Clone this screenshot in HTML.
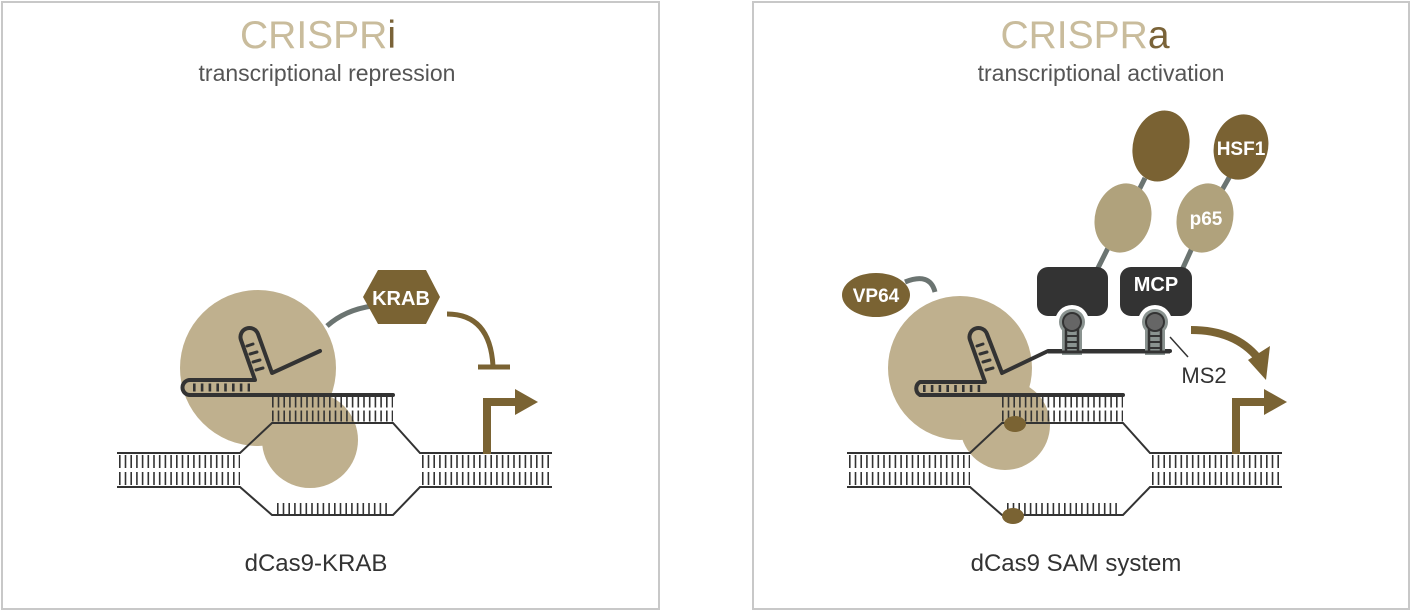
<!DOCTYPE html>
<html><head><meta charset="utf-8"><style>
html,body{margin:0;padding:0;background:#fff;}
svg{display:block;}
text{font-family:"Liberation Sans",sans-serif;}
</style></head><body>
<svg width="1412" height="612" viewBox="0 0 1412 612">
<rect x="2" y="2" width="657" height="607" fill="#fff" stroke="#c8c8c8" stroke-width="2"/>
<rect x="753" y="2" width="656" height="607" fill="#fff" stroke="#c8c8c8" stroke-width="2"/>

<text x="318" y="48" font-size="39" text-anchor="middle" fill="#c9bc9c">CRISPR<tspan fill="#7a6338">i</tspan></text>
<text x="327" y="81" font-size="23" text-anchor="middle" fill="#555">transcriptional repression</text>
<text x="1085" y="48" font-size="39" text-anchor="middle" fill="#c9bc9c">CRISPR<tspan fill="#7a6338">a</tspan></text>
<text x="1101" y="81" font-size="23" text-anchor="middle" fill="#555">transcriptional activation</text>
<text x="316" y="571" font-size="24" text-anchor="middle" fill="#333">dCas9-KRAB</text>
<text x="1076" y="571" font-size="24" text-anchor="middle" fill="#333">dCas9 SAM system</text>

<defs>
<g id="dna">
  <g fill="none" stroke="#333">
    <path d="M117 453H240L272 423H393L420 453H552" stroke-width="2"/>
    <path d="M117 487H240L272 515H393L420 487H552" stroke-width="2"/>
    <g stroke-width="13" stroke-dasharray="1.6 4.1">
      <line x1="119" y1="461.5" x2="240" y2="461.5"/>
      <line x1="119" y1="478.5" x2="240" y2="478.5"/>
      <line x1="422" y1="461.5" x2="552" y2="461.5"/>
      <line x1="422" y1="478.5" x2="552" y2="478.5"/>
    </g>
    <line x1="277" y1="508.5" x2="390" y2="508.5" stroke-width="11" stroke-dasharray="1.6 4.1"/>
  </g>
</g>
<g id="dnaupper" fill="none" stroke="#333">
  <g stroke-width="11" stroke-dasharray="1.6 4.1">
    <line x1="272" y1="402" x2="393" y2="402"/>
    <line x1="272" y1="416" x2="393" y2="416"/>
  </g>
</g>
</defs>

<!-- LEFT -->
<circle cx="258" cy="368" r="78" fill="#bfb08e"/>
<circle cx="310" cy="440" r="48" fill="#bfb08e"/>
<use href="#dna"/>
<use href="#dnaupper"/>
<g fill="none" stroke="#333" stroke-width="4" stroke-linecap="round" stroke-linejoin="round">
  <path d="M393 395H190A7.5 7.5 0 0 1 190 380H255L241 340A9 9 0 0 1 258 334L272 373L320 351"/>
</g>
<g stroke="#333" stroke-width="8" stroke-dasharray="2.6 5.2"><line x1="193" y1="387.5" x2="250" y2="387.5"/></g>
<g stroke="#333" stroke-width="3" stroke-linecap="round">
  <line x1="247" y1="346" x2="253" y2="344"/><line x1="250" y1="354" x2="257" y2="352"/><line x1="253" y1="362" x2="260" y2="360"/><line x1="256" y1="370" x2="263" y2="368"/>
</g>
<path d="M327 326Q345 310 372 306" fill="none" stroke="#6b7471" stroke-width="5"/>
<polygon points="363,297 378,270 426,270 440,297 426,324 378,324" fill="#7a6333"/>
<text x="401" y="305" font-size="20" font-weight="bold" fill="#fff" text-anchor="middle">KRAB</text>
<path d="M447 314Q490 314 493 366" fill="none" stroke="#7a6333" stroke-width="5"/>
<line x1="478" y1="367" x2="510" y2="367" stroke="#7a6333" stroke-width="5"/>
<path d="M487 454V402H518" fill="none" stroke="#7a6333" stroke-width="8"/>
<polygon points="515,389 538,402 515,415" fill="#7a6333"/>

<!-- RIGHT -->
<circle cx="960" cy="368" r="72" fill="#bfb08e"/>
<circle cx="1005" cy="425" r="45" fill="#bfb08e"/>
<g transform="translate(730,0)"><use href="#dna"/><use href="#dnaupper"/></g>
<ellipse cx="1015" cy="424" rx="11" ry="8" fill="#7a6333"/>
<ellipse cx="1013" cy="516" rx="11" ry="8" fill="#7a6333"/>
<g fill="none" stroke="#333" stroke-width="4" stroke-linecap="round" stroke-linejoin="round">
  <path d="M1123 395H920A7.5 7.5 0 0 1 920 382H985L970 340A9 9 0 0 1 987 334L1002 373L1048 351H1170"/>
</g>
<g stroke="#333" stroke-width="7" stroke-dasharray="2.6 5.2"><line x1="923" y1="388.5" x2="982" y2="388.5"/></g>
<g stroke="#333" stroke-width="3" stroke-linecap="round">
  <line x1="977" y1="346" x2="983" y2="344"/><line x1="980" y1="354" x2="987" y2="352"/><line x1="983" y1="362" x2="990" y2="360"/><line x1="986" y1="370" x2="993" y2="368"/>
</g>
<path d="M905 282Q930 272 935 292" fill="none" stroke="#6b7471" stroke-width="5"/>
<ellipse cx="876" cy="295" rx="34" ry="22" fill="#7a6333"/>
<text x="876" y="302" font-size="19" font-weight="bold" fill="#fff" text-anchor="middle">VP64</text>
<g stroke="#6b7471" stroke-width="5">
  <line x1="1145" y1="178" x2="1138" y2="192"/>
  <line x1="1108" y1="248" x2="1097" y2="270"/>
  <line x1="1230" y1="176" x2="1222" y2="190"/>
  <line x1="1192" y1="248" x2="1182" y2="270"/>
</g>
<ellipse cx="1161" cy="146" rx="28" ry="36" transform="rotate(15 1161 146)" fill="#7a6233"/>
<ellipse cx="1123" cy="218" rx="28" ry="35" transform="rotate(15 1123 218)" fill="#b0a27c"/>
<ellipse cx="1241" cy="147" rx="27" ry="33" transform="rotate(15 1241 147)" fill="#7a6233"/>
<ellipse cx="1205" cy="218" rx="28" ry="35" transform="rotate(15 1205 218)" fill="#b0a27c"/>
<text x="1241" y="155" font-size="19" font-weight="bold" fill="#fff" text-anchor="middle">HSF1</text>
<text x="1206" y="225" font-size="19" font-weight="bold" fill="#fff" text-anchor="middle">p65</text>
<rect x="1037" y="267" width="71" height="49" rx="11" fill="#333"/>
<rect x="1120" y="267" width="72" height="49" rx="11" fill="#333"/>
<text x="1156" y="291" font-size="20" font-weight="bold" fill="#fff" text-anchor="middle">MCP</text>
<circle cx="1072" cy="322" r="17" fill="#fff"/>
<circle cx="1155" cy="322" r="17" fill="#fff"/>
<g>
  <rect x="1062" y="328" width="20" height="27" fill="#8a9390"/>
  <circle cx="1072" cy="322" r="13" fill="#8a9390"/>
  <circle cx="1072" cy="322" r="9" fill="#666" stroke="#333" stroke-width="2"/>
  <path d="M1066 329V353M1078 329V353" stroke="#333" stroke-width="2.5"/>
  <path d="M1067 336H1077M1067 342H1077M1067 348H1077" stroke="#333" stroke-width="2"/>
  <rect x="1145" y="328" width="20" height="27" fill="#8a9390"/>
  <circle cx="1155" cy="322" r="13" fill="#8a9390"/>
  <circle cx="1155" cy="322" r="9" fill="#666" stroke="#333" stroke-width="2"/>
  <path d="M1149 329V353M1161 329V353" stroke="#333" stroke-width="2.5"/>
  <path d="M1150 336H1160M1150 342H1160M1150 348H1160" stroke="#333" stroke-width="2"/>
</g>
<line x1="1048" y1="352" x2="1170" y2="352" stroke="#333" stroke-width="3"/>
<line x1="1170" y1="337" x2="1188" y2="357" stroke="#333" stroke-width="1.5"/>
<text x="1204" y="383" font-size="22" fill="#333" text-anchor="middle">MS2</text>
<path d="M1191 330Q1235 330 1258 358" fill="none" stroke="#7a6333" stroke-width="8"/>
<polygon points="1248,360 1270,346 1266,380" fill="#7a6333"/>
<path d="M1236 454V402H1266" fill="none" stroke="#7a6333" stroke-width="8"/>
<polygon points="1264,389 1287,402 1264,415" fill="#7a6333"/>
</svg>
</body></html>
